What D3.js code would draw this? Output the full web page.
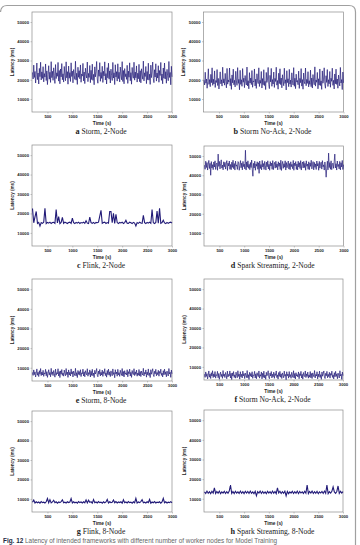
<!DOCTYPE html>
<html>
<head>
<meta charset="utf-8">
<script src="https://cdn.jsdelivr.net/npm/d3@7"></script>
<style>
  body { margin: 0; background: #fff; }
  svg { display: block; }
</style>
</head>
<body>
<svg id="chart" width="360" height="545"></svg>
<script>
// Every series is sampled evenly from 200 s to 3000 s
const timeStart = 200;
const timeEnd   = 3000;

const xTicks = [500, 1000, 1500, 2000, 2500, 3000];
const yTicks = [10000, 20000, 30000, 40000, 50000];

const captionLetters = ["a", "b", "c", "d", "e", "f", "g", "h"];
const captionTexts = [
  "Storm, 2-Node", "Storm No-Ack, 2-Node",
  "Flink, 2-Node", "Spark Streaming, 2-Node",
  "Storm, 8-Node", "Storm No-Ack, 2-Node",
  "Flink, 8-Node", "Spark Streaming, 8-Node"
];

// Latency (ms)
const storm2 = [
  23800,20400,27600,21200,24300,18300,22900,28700,20100,23500,17800,25900,21600,29100,19900,
  24100,20700,26800,18900,23200,21400,28200,19600,24600,17500,22700,27300,20300,23900,18600,
  29400,21100,24400,19700,26200,22100,18100,27900,20600,23600,21800,29000,19300,24800,17900,
  25600,21500,28400,20000,23100,18800,26900,22400,19500,29300,21000,24200,17700,27100,20800,
  23700,19100,28800,21700,24500,18400,25300,22200,20200,29600,19800,23400,17600,26500,21300,
  24700,20500,27700,18700,23000,21900,28500,19400,24000,18000,26000,22600,20900,29200,19000,
  23300,21200,27400,18500,24900,20100,28100,19700,22800,17400,26700,21500,24300,29500,20400,
  18200,25100,21800,28900,19200,23800,20700,27000,18600,24400,22000,29300,19900,23200,17800,
  26300,21000,28600,20300,24600,18300,25500,22300,19600,29000,20900,23600,17500,27800,21400,
  24200,19300,28300,20600,23900,18900,26600,22500,20000,29400,19100,24800,17900,25800,21600,
  23100,20200,27500,18100,24500,21300,28800,19500,23700,17700,26400,22100,20800,29100,19800,
  24000,21000,27200,18800,23400,20500,28000,19000,24700,18400,25700,22400,20300,29700,19400,
  23600,21700,26900,18000,24300,20000,28600,19800,22900,17600,27600,21100,24100,29200,20600,
  18500,25200,21400,28300,19300,23500,20900,27300,18700,24800,22200,29000,19700,23000,17900,
  26100,20800,28700,20400,24200,18200,25400,22000,19500,29500,21200,23800,17400,27000,21500
];
const stormNoAck2 = [
  19800,17300,23900,18200,20400,15600,19100,25700,17600,20100,16400,22800,18500,26200,17100,
  20300,17800,24600,16000,19600,18600,25300,17000,20700,15200,19300,24100,17900,20000,16700,
  26500,18300,20500,17200,23300,19200,15800,25900,17700,19900,18800,26100,16900,20600,15000,
  22500,18400,25500,17400,19700,16300,24400,19400,17100,26300,18100,20200,14800,24900,17600,
  20000,16600,25800,18700,20800,15900,22200,19000,17300,26600,16800,19500,15300,23700,18300,
  20900,17500,24800,16100,19400,18900,25600,16800,20300,15500,23100,19500,18000,26200,16500,
  19700,18200,24300,15700,20600,17400,25200,17000,19200,14900,23800,18600,20400,26400,17500,
  15400,22300,18900,25900,16600,20100,17800,24000,16000,20700,19100,26500,17200,19600,15100,
  23400,18000,25700,17500,20900,15800,22600,19300,16900,26000,18100,20000,14700,24700,18500,
  20500,16400,25400,17700,19800,16200,23600,19600,17300,26300,16600,20800,15400,22900,18800,
  19600,17400,24500,15500,20700,18500,25800,16700,20100,15100,23500,19000,17900,26100,16900,
  20200,18100,24200,16300,19500,17600,25000,16400,20900,15700,22700,19300,17400,26700,16700,
  19900,18700,23800,15300,20500,17200,25600,17000,19400,15000,24600,18200,20300,26200,17800,
  15600,22100,18600,25300,16500,20000,17900,24300,16100,20800,19200,26000,17100,19700,15200,
  23000,17900,25500,17600,20400,15600,22400,19100,16800,26400,18300,20100,14900,24000,18400
];
const flink2 = [
  22500,15200,18200,21000,14900,15400,13500,15300,14900,15500,
  22600,14800,15400,15000,15500,14800,15300,15400,14900,22000,
  15100,18400,14800,15400,18000,14900,15500,15200,14800,15300,
  15500,14900,17600,15300,14800,15400,15000,15500,14800,15300,
  15100,15500,14900,16200,15000,14800,18100,15300,14900,15400,
  14800,15400,15200,15500,18600,21600,14900,15300,15500,14800,
  15300,15000,21000,21000,15200,20100,14900,19600,15300,14800,
  15400,15100,15500,14800,15300,16500,15000,14900,15500,15200,
  14800,15400,15000,13500,15300,14900,15500,15100,14900,19000,
  15300,14800,15400,15000,15500,14900,22000,15200,14800,15400,
  21200,15000,22600,14900,15300,16500,15100,14800,15400,14900,
  15300,15500,15000
];
const spark2 = [
  45200,43100,47300,44000,46600,42700,45800,47700,43500,46200,40000,47100,43800,45500,42900,
  46900,44300,47500,43000,45700,46400,42600,51000,44600,47200,43300,46000,48000,43700,45300,
  42800,47000,44400,46700,43200,45900,47600,42500,46300,44800,47400,43100,45600,42900,46800,
  44100,47800,43400,46100,42700,47300,44700,45400,43000,47100,46500,42600,45100,47600,43900,
  46300,42800,47200,44500,45800,43300,53000,42700,46900,44200,47500,43600,45700,42900,46600,
  44000,47900,43200,39500,46200,43800,47300,42600,45900,44700,47000,43100,46500,41000,47400,
  43500,45600,42800,47700,44300,46100,43000,47200,45000,42700,46800,44400,47500,43300,45700,
  42600,47100,44800,46300,43100,47600,42900,45500,46700,43700,47300,44100,45900,42800,47000,
  44600,46400,43000,47800,42500,45800,47200,43600,46000,44200,47500,42700,46600,43900,45300,
  47400,43200,46100,42900,47000,44500,45700,43400,47700,42600,46300,44900,47100,43000,45900,
  42800,47300,44300,46500,43500,47600,42700,45600,46900,43800,47200,44000,46200,42600,47500,
  44700,45800,43100,47000,42900,46400,44600,47800,43300,45500,47100,42800,46700,44100,45900,
  43000,47400,44800,46100,42600,47200,43700,45700,46800,43200,47600,44400,45400,42700,46900,
  44200,39000,43500,47300,42800,51500,44000,46600,43100,47500,42900,45800,46300,43600,47100,
  51000,43800,46000,42700,47400,44500,45600,43300,47200,42800,46500,44300,47700,43000,45500
];
const storm8 = [
  7600,6100,8900,6500,7900,5300,7200,9400,6200,7700,5500,8500,6700,9600,6000,
  7800,6300,8700,5600,7400,6800,9200,5900,8000,5100,7100,9000,6400,7600,5400,
  9700,6600,7900,6000,8600,7000,5200,9300,6200,7500,6900,9500,5800,8100,5000,
  8400,6700,9100,6100,7300,5700,8800,7100,5900,9600,6500,7800,5100,8900,6300,
  7700,5800,9400,6800,8000,5300,8300,7000,6000,9700,5900,7500,5000,8600,6600,
  8100,6200,9000,5500,7400,6900,9300,5800,7900,5400,8500,7200,6400,9500,5700,
  7500,6600,8900,5300,8200,6100,9200,5900,7300,5000,8700,6800,7900,9600,6200,
  5400,8300,6700,9100,5800,7700,6300,8800,5600,8000,7000,9500,6000,7400,5200,
  8600,6500,9300,6200,7900,5500,8400,7100,5900,9400,6600,7600,4900,9000,6800,
  7800,5700,9200,6400,7500,5600,8700,7200,6100,9600,5800,8100,5300,8500,6700,
  7400,6300,9000,5400,8000,6900,9300,5800,7700,5100,8600,7000,6500,9500,6000,
  7900,6600,8800,5700,7300,6200,9100,5900,8100,5500,8300,7200,6300,9700,5800,
  7600,6800,8900,5200,7800,6400,9400,6000,7400,5000,9000,6700,8000,9500,6400,
  5500,8200,6900,9200,5900,7600,6500,8700,5700,8100,7100,9300,6100,7300,5300,
  8500,6400,9300,6600,7900,5400,8300,7000,5800,9600,6800,7700,5100,8800,6900
];
const stormNoAck8 = [
  6200,4600,7400,5100,6500,3800,5800,7900,4700,6300,4000,7000,5300,8000,4500,
  6400,4900,7600,4200,6000,5500,7700,4400,6600,3600,5700,7300,5000,6200,4100,
  8100,5200,6300,4500,7100,5800,3900,7800,4800,6100,5400,7900,4300,6700,3500,
  6900,5300,7600,4600,5900,4200,7300,5700,4400,8000,5100,6300,3700,7500,4900,
  6200,4300,7800,5400,6500,4000,6800,5600,4500,8100,4400,6000,3500,7200,5200,
  6600,4800,7500,4100,5900,5500,7700,4300,6400,3900,7000,5800,5000,7900,4200,
  6000,5200,7400,3800,6700,4600,7800,4400,5800,3600,7200,5400,6400,8000,4700,
  3900,6800,5300,7600,4300,6200,4900,7300,4100,6500,5600,7900,4500,5900,3700,
  7100,5100,7700,4700,6400,4000,6900,5700,4400,7800,5200,6100,3400,7500,5400,
  6300,4200,7600,4900,6000,4100,7200,5800,4600,8000,4300,6600,3800,7000,5300,
  6000,4800,7400,3900,6500,5500,7700,4300,6200,3700,7100,5600,5000,7900,4500,
  6400,5100,7300,4200,5900,4700,7600,4400,6600,4000,6900,5800,4900,8100,4300,
  6100,5300,7500,3800,6300,4900,7800,4500,6000,3600,7400,5200,6500,7900,4800,
  4000,6700,5400,7700,4400,6200,5000,7200,4200,6600,5700,7800,4600,5900,3800,
  7000,4900,7700,5100,6400,3900,6800,5600,4300,8000,5300,6200,3600,7300,5500
];
const flink8 = [
  8300,9400,7900,8500,8000,8400,7800,8600,8100,8300,
  7900,8500,10200,8000,9600,7900,8400,9300,8000,8500,
  7800,8400,8100,8600,9500,8000,8300,7900,8500,8100,
  8400,10200,7900,8500,8000,8300,7800,8600,8100,8400,
  7900,8500,8000,9500,7900,9300,8200,8500,7800,9600,
  8000,8400,7900,8600,8100,8300,7800,8500,8000,8400,
  9700,7900,8500,8100,8300,9400,8000,8600,7900,8400,
  8100,8500,7800,9500,8000,8400,7900,8600,8100,8300,
  7800,8500,8000,10300,7900,8400,8100,8600,9600,8000,
  8300,7900,8500,8100,9700,7800,8400,8000,8600,7900,
  8300,8100,8500,7800,8400,10300,8000,8500,7900,8300,
  8100,8600,8000
];
const spark8 = [
  13500,12700,13900,12800,13600,12600,13800,12900,15600,12700,
  13700,12800,13900,12600,13500,12900,13800,12700,13600,12800,
  13900,17000,12700,13700,12600,13800,12900,13500,12700,13900,
  12800,13600,12600,13800,12900,13700,12700,13900,12800,13500,
  12600,13800,11500,13600,12900,13900,12700,13700,12800,13500,
  12600,13800,12900,13600,12700,13900,12800,13700,12600,15500,
  12900,13800,12700,13600,12800,13900,11500,13700,12600,13500,
  12900,13800,12700,13600,12800,13900,12600,13700,12900,13500,
  12700,13800,12800,17000,12600,13700,12900,13900,12700,13600,
  12800,13800,12600,13500,12900,13700,12700,13900,12800,17000,
  12600,13600,12900,13800,16000,13500,12800,13700,16500,12700,
  13800,12900,13600
];

const seriesList = [storm2, stormNoAck2, flink2, spark2, storm8, stormNoAck8, flink8, spark8];

// Plot rectangles of the eight panels (left, top, right, bottom)
const panelBoxes = [
  [32, 12, 172, 112], [203.5, 12, 343.5, 112],
  [32, 145, 172, 246], [204, 146, 343.5, 246],
  [32, 279, 172, 381], [204, 279, 343, 380],
  [32, 411, 172, 512], [204, 410, 343, 512]
];

const svg = d3.select("#chart");
const lineColor = "#221b78";

// page frame (rounded top-right corner)
svg.append("path")
  .attr("d", "M0.5,12 Q1,5.5 7,5.5 L349,5.5 Q355.5,5.5 355.5,12 L355.5,545")
  .attr("fill", "none")
  .attr("stroke", "#a0a0a0")
  .attr("stroke-width", 1.2);

seriesList.forEach((values, k) => {
  const [x0, y0, x1, y1] = panelBoxes[k];
  const g = svg.append("g");
  const step = (timeEnd - timeStart) / (values.length - 1);

  const x = d3.scaleLinear().domain([190, 3000]).range([x0, x1]);
  const y = d3.scaleLinear().domain([3250, 55200]).range([y1, y0]);

  // plot box
  g.append("rect")
    .attr("x", x0).attr("y", y0)
    .attr("width", x1 - x0).attr("height", y1 - y0)
    .attr("fill", "none")
    .attr("stroke", "#8c8c8c")
    .attr("stroke-width", 0.7);

  // axes
  const yAxis = d3.axisLeft(y).tickValues(yTicks).tickFormat(d3.format("d"))
    .tickSize(1.5).tickPadding(1.5);
  const xAxis = d3.axisBottom(x).tickValues(xTicks).tickFormat(d3.format("d"))
    .tickSize(1.5).tickPadding(1.5);

  g.append("g").attr("transform", `translate(${x0},0)`).call(yAxis)
    .call(a => a.select(".domain").remove());
  g.append("g").attr("transform", `translate(0,${y1})`).call(xAxis)
    .call(a => a.select(".domain").remove());

  g.selectAll(".tick line").attr("stroke", "#8c8c8c").attr("stroke-width", 0.5);
  g.selectAll(".tick text")
    .attr("fill", "#222")
    .style("font-family", "'Liberation Sans', Arial, sans-serif")
    .style("font-size", "4.2px")
    .style("font-weight", "bold");

  // axis titles
  g.append("text")
    .attr("transform", `translate(${x0 - 20},${(y0 + y1) / 2}) rotate(-90)`)
    .attr("text-anchor", "middle")
    .attr("dominant-baseline", "central")
    .attr("fill", "#222")
    .style("font-family", "'Liberation Sans', Arial, sans-serif")
    .style("font-size", "4.6px")
    .style("font-weight", "bold")
    .text("Latency (ms)");

  g.append("text")
    .attr("x", (x0 + x1) / 2)
    .attr("y", y1 + 12.5)
    .attr("text-anchor", "middle")
    .attr("fill", "#222")
    .style("font-family", "'Liberation Sans', Arial, sans-serif")
    .style("font-size", "4.8px")
    .style("font-weight", "bold")
    .text("Time (s)");

  // latency trace
  const line = d3.line()
    .x((d, i) => x(timeStart + i * step))
    .y(d => y(d));

  g.append("path")
    .datum(values)
    .attr("d", line)
    .attr("fill", "none")
    .attr("stroke", lineColor)
    .attr("stroke-width", values.length > 150 ? 0.7 : 1.1)
    .attr("stroke-linejoin", "miter");

  // sub-caption
  const cap = g.append("text")
    .attr("x", (x0 + x1) / 2 - 1)
    .attr("y", y1 + 22)
    .attr("text-anchor", "middle")
    .attr("fill", "#222")
    .style("font-family", "'Liberation Serif', 'Times New Roman', serif")
    .style("font-size", "7.6px");
  cap.append("tspan").style("font-weight", "bold").style("font-size", "8.2px").text(captionLetters[k]);
  cap.append("tspan").text(" " + captionTexts[k]);
});

// figure caption along the bottom edge
const figCap = svg.append("text")
  .attr("x", 3)
  .attr("y", 543)
  .style("font-family", "'Liberation Sans', Arial, sans-serif")
  .style("font-size", "6.4px");
figCap.append("tspan").attr("fill", "#1f2a44").style("font-weight", "bold").text("Fig. 12");
figCap.append("tspan").attr("fill", "#666")
  .text(" Latency of intended frameworks with different number of worker nodes for Model Training");
</script>
</body>
</html>
